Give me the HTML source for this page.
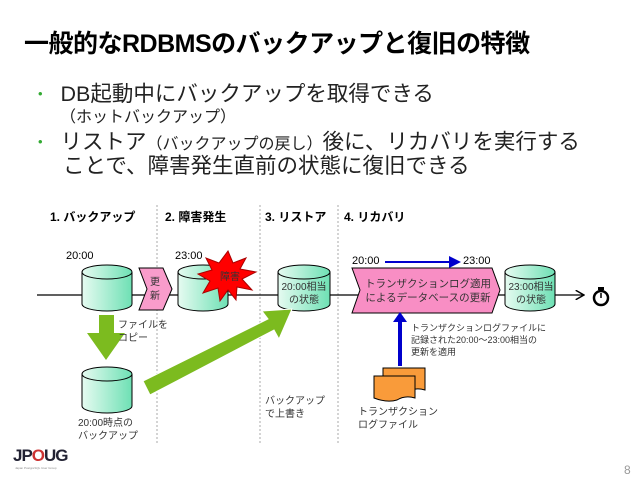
<!DOCTYPE html>
<html><head><meta charset="utf-8"><style>
body{margin:0;width:638px;height:479px;background:#fff;overflow:hidden;position:relative;font-family:"Liberation Sans","Noto Sans CJK JP",sans-serif;color:#000}
.a{position:absolute;white-space:nowrap}
</style></head><body>
<div class="a" style="left:24px;top:32px;font-size:25px;line-height:25px;font-weight:bold;letter-spacing:-0.5px">一般的なRDBMSのバックアップと復旧の特徴</div>
<div class="a" style="left:38px;top:83px;font-size:21.5px;line-height:22px;color:#222"><span style="color:#3a3;font-size:13px;position:relative;top:-3px">•</span>&nbsp;&nbsp;&nbsp;DB起動中にバックアップを取得できる</div>
<div class="a" style="left:60px;top:110px;font-size:16px;line-height:16px;color:#222">（ホットバックアップ）</div>
<div class="a" style="left:38px;top:131px;font-size:21.5px;line-height:22px;color:#222"><span style="color:#3a3;font-size:13px;position:relative;top:-3px">•</span>&nbsp;&nbsp;&nbsp;リストア<span style="font-size:16px">（バックアップの戻し）</span>後に、リカバリを実行する</div>
<div class="a" style="left:63px;top:155px;font-size:21.5px;line-height:22px;color:#222">ことで、障害発生直前の状態に復旧できる</div>

<div class="a" style="left:50px;top:208px;font-size:12px;font-weight:bold">1. バックアップ</div>
<div class="a" style="left:165px;top:208px;font-size:12px;font-weight:bold">2. 障害発生</div>
<div class="a" style="left:265px;top:208px;font-size:12px;font-weight:bold">3. リストア</div>
<div class="a" style="left:344px;top:208px;font-size:12px;font-weight:bold">4. リカバリ</div>

<svg class="a" style="left:0;top:0" width="638" height="479" viewBox="0 0 638 479">
<defs>
<linearGradient id="g" x1="0" x2="1"><stop offset="0" stop-color="#e6fbf1"/><stop offset="1" stop-color="#6ee0b4"/></linearGradient>
<marker id="bk" markerWidth="8" markerHeight="8" refX="7" refY="4" orient="auto"><path d="M0,0 L7,4 L0,8" fill="none" stroke="#000" stroke-width="1.2"/></marker>
<marker id="bl" markerWidth="6" markerHeight="6" refX="5" refY="3" orient="auto"><path d="M0,0 L6,3 L0,6z" fill="#0000cc"/></marker>
</defs>
<g stroke="#aaa" stroke-dasharray="2,2" stroke-width="1">
<line x1="157" y1="205" x2="157" y2="445"/><line x1="260" y1="205" x2="260" y2="445"/><line x1="338" y1="205" x2="338" y2="445"/>
</g>
<line x1="37" y1="295" x2="584" y2="295" stroke="#000" stroke-width="1.2" marker-end="url(#bk)"/>
<g stroke="#000" stroke-width="1" fill="url(#g)">
<path d="M82,272 v32 a25,7 0 0 0 50,0 v-32"/><ellipse cx="107" cy="272" rx="25" ry="7"/>
<path d="M178,272 v32 a25,7 0 0 0 50,0 v-32"/><ellipse cx="203" cy="272" rx="25" ry="7"/>
<path d="M278,272 v32 a26,7 0 0 0 52,0 v-32"/><ellipse cx="304" cy="272" rx="26" ry="7"/>
<path d="M505,272 v32 a25,7 0 0 0 50,0 v-32"/><ellipse cx="530" cy="272" rx="25" ry="7"/>
<path d="M82,374 v32 a25,7 0 0 0 50,0 v-32"/><ellipse cx="107" cy="374" rx="25" ry="7"/>
</g>
<path d="M139,268 L163,268 L172,289 L163,310 L139,310 L147,289z" fill="#f99ccb" stroke="#000"/>
<path d="M352,268 L492,268 L500,290 L492,313 L352,313 L360,290z" fill="#f88ec4" stroke="#000"/>
<path d="M228,251 L233,263 L246,258 L240,269 L256,272 L242,279 L252,290 L237,287 L236,300 L228,290 L220,301 L218,288 L203,293 L210,281 L198,274 L212,270 L206,258 L219,263z" fill="#f00" stroke="#a00"/>
<path d="M99,315 L114,315 L114,333 L125,333 L106,360 L87,333 L99,333z" fill="#7cbb1f"/>
<path d="M145,385 L150,395 L274,330 L279,339 L292,309 L262,311 L268,319 L143,381z" fill="#7cbb1f" stroke="#fff" stroke-width="1"/>
<line x1="385" y1="262" x2="459" y2="262" stroke="#0000cc" stroke-width="2" marker-end="url(#bl)"/>
<line x1="400" y1="366" x2="400" y2="320" stroke="#0000cc" stroke-width="4"/>
<path d="M393,322 L400,312 L407,322z" fill="#0000cc"/>
<path d="M383,368 h42 v22 q-10,-3 -18,2 q-10,3 -24,-2z" fill="#f99b3a" stroke="#000"/>
<path d="M374,376 h41 v22 q-10,-3 -18,2 q-10,3 -23,-2z" fill="#f99b3a" stroke="#000"/>
<circle cx="601" cy="298" r="7" fill="none" stroke="#000" stroke-width="2.5"/>
<rect x="598" y="287" width="6" height="3" fill="#000"/>
<line x1="601" y1="298" x2="601" y2="293" stroke="#000" stroke-width="1.5"/>
</svg>

<div class="a" style="left:66px;top:250px;font-size:11px">20:00</div>
<div class="a" style="left:175px;top:250px;font-size:11px">23:00</div>
<div class="a" style="left:352px;top:255px;font-size:11px">20:00</div>
<div class="a" style="left:463px;top:255px;font-size:11px">23:00</div>
<div class="a" style="left:150px;top:276px;font-size:10px;line-height:14px;color:#333">更<br>新</div>
<div class="a" style="left:220px;top:268px;font-size:10px;color:#333">障害</div>
<div class="a" style="left:277px;top:281px;width:54px;text-align:center;font-size:10px;line-height:13px;color:#333">20:00相当<br>の状態</div>
<div class="a" style="left:504px;top:281px;width:54px;text-align:center;font-size:10px;line-height:13px;color:#333">23:00相当<br>の状態</div>
<div class="a" style="left:362px;top:277px;width:132px;text-align:center;font-size:10.5px;line-height:14px;color:#333">トランザクションログ適用<br>によるデータベースの更新</div>
<div class="a" style="left:118px;top:319px;font-size:10px;line-height:13px;color:#333">ファイルを<br>コピー</div>
<div class="a" style="left:78px;top:417px;font-size:10px;line-height:13px;color:#333">20:00時点の<br>バックアップ</div>
<div class="a" style="left:265px;top:395px;font-size:10px;line-height:13px;color:#333">バックアップ<br>で上書き</div>
<div class="a" style="left:358px;top:406px;font-size:10px;line-height:13px;color:#333">トランザクション<br>ログファイル</div>
<div class="a" style="left:411px;top:322px;font-size:9px;line-height:12px;color:#333">トランザクションログファイルに<br>記録された20:00～23:00相当の<br>更新を適用</div>
<div class="a" style="left:13px;top:446px;font-size:17px;font-weight:bold;color:#223;letter-spacing:-1px">JP<span style="color:#c33">O</span>UG</div>
<div class="a" style="left:15px;top:466px;font-size:3px;color:#888">Japan PostgreSQL User Group</div>
<div class="a" style="left:624px;top:463px;font-size:12px;color:#999">8</div>
</body></html>
